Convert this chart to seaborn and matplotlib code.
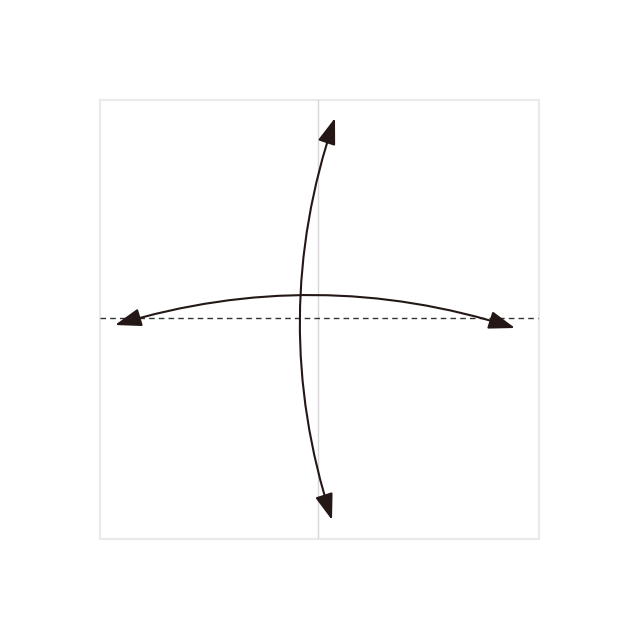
import matplotlib
matplotlib.use("Agg")
import matplotlib.pyplot as plt
import seaborn as sns
import pandas as pd

# paper square (pixel coords) and fold lines
paper_x = [100, 538]
paper_y = [100, 538]
fold_v_x = 318
fold_h_y = 318

# arc arrows: start, end, bend
arrows = pd.DataFrame({
    "x0": [115, 335], "y0": [325, 118],
    "x1": [515, 332], "y1": [328, 520],
    "rad": [-0.155, 0.165],
})

sns.set_style("white")
fig = plt.figure(figsize=(6.4, 6.4), dpi=100)
ax = fig.add_axes([0, 0, 1, 1])
ax.set_xlim(0, 640)
ax.set_ylim(640, 0)
ax.axis("off")

# shadow + paper
ax.add_patch(plt.Rectangle((paper_x[0] - 1, paper_y[0] - 1), paper_x[1] - paper_x[0] + 3,
                           paper_y[1] - paper_y[0] + 3, facecolor="#e6e6e6", edgecolor="none"))
ax.add_patch(plt.Rectangle((paper_x[0], paper_y[0]), paper_x[1] - paper_x[0],
                           paper_y[1] - paper_y[0], facecolor="white", edgecolor="#ececec", lw=1))

# dashed fold lines
sns.lineplot(x=[fold_v_x, fold_v_x], y=paper_y, ax=ax, color="#333333", lw=1, linestyle=(0, (4, 3)))
sns.lineplot(x=paper_x, y=[fold_h_y, fold_h_y], ax=ax, color="#333333", lw=1, linestyle=(0, (4, 3)))

for r in arrows.itertuples():
    ax.annotate("", xy=(r.x1, r.y1), xytext=(r.x0, r.y0),
                arrowprops=dict(arrowstyle="<|-|>,head_length=1.6,head_width=0.55",
                                connectionstyle=f"arc3,rad={r.rad}",
                                color="#231815", lw=1.5, shrinkA=0, shrinkB=0))

fig.savefig("out.png", dpi=100)
